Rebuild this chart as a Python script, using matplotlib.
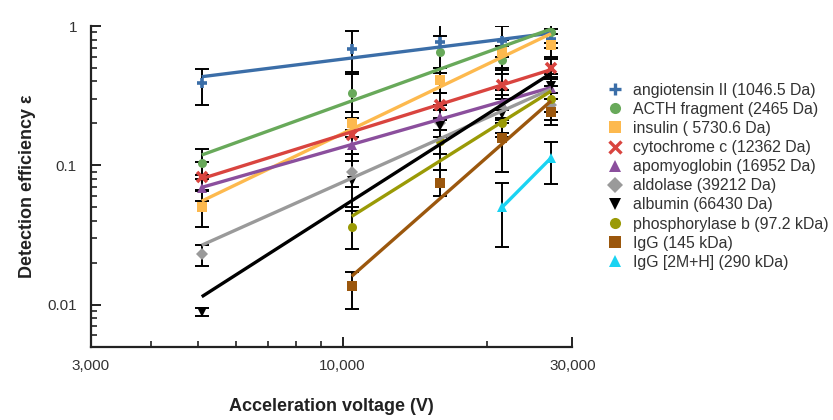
import numpy as np
import matplotlib
matplotlib.use("Agg")
import matplotlib.pyplot as plt
from matplotlib.lines import Line2D
from matplotlib.ticker import FixedLocator, LogLocator, NullFormatter

plt.rcParams["font.family"] = ["Liberation Sans", "DejaVu Sans"]

# acceleration voltage columns (as placed in the figure)
voltage = [5100, 10450, 15950, 21450, 27100]

names = [
    "angiotensin II (1046.5 Da)",
    "ACTH fragment (2465 Da)",
    "insulin ( 5730.6 Da)",
    "cytochrome c (12362 Da)",
    "apomyoglobin (16952 Da)",
    "aldolase (39212 Da)",
    "albumin (66430 Da)",
    "phosphorylase b (97.2 kDa)",
    "IgG (145 kDa)",
    "IgG [2M+H] (290 kDa)",
]

# index of first voltage column each series has
first_col = [0, 0, 0, 0, 0, 0, 0, 1, 1, 3]

eff_angio = [0.39, 0.68, 0.77, 0.78, 0.81]
eff_acth = [0.104, 0.33, 0.65, 0.57, 0.9]
eff_insulin = [0.05, 0.2, 0.41, 0.65, 0.73]
eff_cytc = [0.083, 0.165, 0.27, 0.38, 0.5]
eff_apomyo = [0.069, 0.14, 0.224, 0.28, 0.36]
eff_aldolase = [0.023, 0.09, 0.2, 0.26, 0.27]
eff_albumin = [0.0088, 0.077, 0.19, 0.235, 0.37]
eff_phos = [0.036, 0.15, 0.2, 0.3]
eff_igg = [0.0135, 0.075, 0.157, 0.24]
eff_igg2 = [0.05, 0.113]

low_angio = [0.27, 0.47, 0.46, 0.6, 0.7]
low_acth = [0.08, 0.24, 0.5, 0.45, 0.75]
low_insulin = [0.036, 0.16, 0.33, 0.5, 0.6]
low_cytc = [0.065, 0.12, 0.22, 0.3, 0.42]
low_apomyo = [0.055, 0.107, 0.18, 0.22, 0.3]
low_aldolase = [0.019, 0.07, 0.16, 0.21, 0.21]
low_albumin = [0.0083, 0.047, 0.12, 0.17, 0.3]
low_phos = [0.025, 0.093, 0.16, 0.24]
low_igg = [0.0093, 0.06, 0.09, 0.195]
low_igg2 = [0.026, 0.073]

high_angio = [0.49, 0.92, 1.3, 1.0, 0.95]
high_acth = [0.13, 0.45, 0.85, 0.72, 1.05]
high_insulin = [0.066, 0.24, 0.5, 0.8, 0.88]
high_cytc = [0.105, 0.22, 0.33, 0.48, 0.58]
high_apomyo = [0.085, 0.18, 0.27, 0.35, 0.43]
high_aldolase = [0.027, 0.12, 0.25, 0.32, 0.33]
high_albumin = [0.0094, 0.121, 0.27, 0.3, 0.45]
high_phos = [0.05, 0.21, 0.25, 0.37]
high_igg = [0.0172, 0.093, 0.2, 0.3]
high_igg2 = [0.075, 0.148]

effs = [eff_angio, eff_acth, eff_insulin, eff_cytc, eff_apomyo,
        eff_aldolase, eff_albumin, eff_phos, eff_igg, eff_igg2]
lows = [low_angio, low_acth, low_insulin, low_cytc, low_apomyo,
        low_aldolase, low_albumin, low_phos, low_igg, low_igg2]
highs = [high_angio, high_acth, high_insulin, high_cytc, high_apomyo,
         high_aldolase, high_albumin, high_phos, high_igg, high_igg2]

colors = ["#3b6ea8", "#68a95a", "#fdb94e", "#d9443f", "#8b4f9d",
          "#9a9a9a", "#000000", "#9a9a06", "#9b570d", "#1ad3f2"]
markers = ["+", "o", "s", "x", "^", "D", "v", "o", "s", "^"]

fig = plt.figure(figsize=(8.33, 4.2), dpi=100)
ax = fig.add_axes([0.109, 0.175, 0.578, 0.763])

for i in range(len(names)):
    x = np.array(voltage[first_col[i]:], dtype=float)
    y = np.array(effs[i])
    lo = y - np.array(lows[i])
    hi = np.array(highs[i]) - y
    ax.errorbar(x, y, yerr=[lo, hi], fmt="none", ecolor="black",
                elinewidth=1.4, capsize=5, capthick=1.4, zorder=2)
    mew = 2.6 if markers[i] in "+x" else 0
    ms = 7 if markers[i] in "+x" else 6.5
    if markers[i] == "D":
        ms = 6
    ax.plot(x, y, linestyle="none", marker=markers[i], color=colors[i],
            markersize=ms, markeredgewidth=mew, zorder=3)
    # power-law fit drawn as straight line on log-log axes
    k, b = np.polyfit(np.log10(x), np.log10(y), 1)
    xf = np.array([x[0], x[-1]])
    ax.plot(xf, 10 ** (k * np.log10(xf) + b), color=colors[i],
            linewidth=2.4, solid_capstyle="butt", zorder=4)

ax.set_xscale("log")
ax.set_yscale("log")
ax.set_xlim(3000, 30000)
ax.set_ylim(0.005, 1)

ax.xaxis.set_major_locator(FixedLocator([3000, 10000, 30000]))
ax.set_xticklabels(["3,000", "10,000", "30,000"])
ax.xaxis.set_minor_locator(FixedLocator([4000, 5000, 6000, 7000, 8000, 9000, 20000]))
ax.xaxis.set_minor_formatter(NullFormatter())
ax.yaxis.set_major_locator(FixedLocator([0.01, 0.1, 1]))
ax.set_yticklabels(["0.01", "0.1", "1"])
ax.yaxis.set_minor_locator(LogLocator(base=10, subs=np.arange(2, 10), numticks=20))
ax.yaxis.set_minor_formatter(NullFormatter())

ax.tick_params(which="major", direction="in", length=7, width=1.4,
               labelsize=11, color="#222222", labelcolor="#333333")
ax.tick_params(which="minor", direction="in", length=4, width=1.2, color="#222222")
ax.tick_params(axis="x", pad=9)
ax.tick_params(axis="y", pad=10)

for side in ["top", "right"]:
    ax.spines[side].set_visible(False)
for side in ["left", "bottom"]:
    ax.spines[side].set_linewidth(1.6)
    ax.spines[side].set_color("#222222")

ax.set_xlabel("Acceleration voltage (V)", fontsize=13, fontweight="bold",
              color="#222222", labelpad=18)
ax.set_ylabel("Detection efficiency ε", fontsize=13, fontweight="bold",
              color="#222222", labelpad=8)

handles = []
for i in range(len(names)):
    mew = 2.4 if markers[i] in "+x" else 0
    handles.append(Line2D([], [], linestyle="none", marker=markers[i],
                          color=colors[i], markersize=8, markeredgewidth=mew))
fig.legend(handles, names, loc="upper left", bbox_to_anchor=(0.71, 0.837),
           frameon=False, fontsize=11.4, labelspacing=0.26, handletextpad=0.5,
           handlelength=1.2, labelcolor="#333333")

fig.savefig("out.png", dpi=100)
